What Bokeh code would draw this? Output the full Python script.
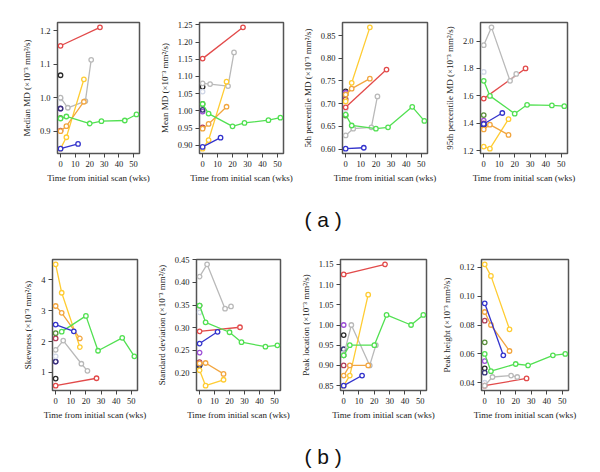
import math
from bokeh.plotting import figure
from bokeh.layouts import column, row
from bokeh.models import Range1d, FixedTicker, PrintfTickFormatter
from bokeh.core.properties import value
from bokeh.embed import file_html
from bokeh.resources import INLINE

# ---- data ----
SUBJECTS = ["red", "gray", "gold", "orange", "green", "blue"]
TIMES = {
    "red": [0, 27],
    "gray": [0, 5, 17, 21],
    "gold": [0, 4, 16],
    "orange": [0, 4, 16],
    "green": [0, 4, 20, 28, 44, 52],
    "blue": [0, 12],
}
SINGLES = ["black", "purple", "brown", "darkblue", "darkgreen", "lightgray"]
NAN = float("nan")

median_md = {"red": [1.155, 1.21], "gray": [1.0, 0.97, 0.99, 1.113], "gold": [0.848, 0.882, 1.055],
             "orange": [0.9, 0.915, 0.988], "green": [0.938, 0.944, 0.923, 0.93, 0.932, 0.95], "blue": [0.848, 0.862]}
median_single = [1.067, 0.967, 0.902, 0.968, 0.94, 0.998]

mean_md = {"red": [1.152, 1.243], "gray": [1.08, 1.078, 1.072, 1.17], "gold": [0.89, 0.915, 1.085],
           "orange": [0.948, 0.962, 1.012], "green": [1.02, 0.992, 0.955, 0.965, 0.973, 0.98], "blue": [0.895, 0.922]}
mean_single = [1.07, 0.998, 0.952, 1.003, 1.02, 1.056]

p5_md = {"red": [0.692, 0.775], "gray": [0.63, 0.645, 0.648, 0.716], "gold": [0.705, 0.746, 0.868],
         "orange": [0.72, 0.733, 0.755], "green": [0.676, 0.652, 0.645, 0.648, 0.693, 0.662], "blue": [0.601, 0.603]}
p5_single = [0.727, 0.724, 0.71, 0.72, 0.674, 0.688]

p95_md = {"red": [1.58, 1.8], "gray": [1.97, 2.1, 1.71, 1.76], "gold": [1.23, 1.215, 1.43],
          "orange": [1.355, 1.39, 1.315], "green": [1.71, 1.6, 1.47, 1.535, 1.53, 1.525], "blue": [1.395, 1.475]}
p95_single = [1.39, 1.42, 1.40, 1.385, 1.46, 1.775]

skewness = {"red": [0.57, 0.81], "gray": [1.73, 2.03, 1.28, 1.05], "gold": [4.5, 3.58, 1.82],
            "orange": [3.15, 2.93, 2.1], "green": [NAN, 2.32, 2.83, 1.7, 2.12, 1.52], "blue": [2.55, 2.33]}
skew_single = [0.8, 1.35, 2.1, 1.35, 2.27, 1.52]

std_dev = {"red": [0.292, 0.301], "gray": [0.413, 0.44, 0.342, 0.347], "gold": [0.206, 0.172, 0.185],
           "orange": [0.221, 0.222, 0.198], "green": [0.349, 0.312, 0.29, 0.268, 0.258, 0.261], "blue": [0.265, 0.291]}
std_single = [0.216, 0.245, 0.224, 0.218, 0.349, 0.334]

peak_loc = {"red": [1.125, 1.15], "gray": [0.925, 1.0, 0.9, 0.95], "gold": [0.85, 0.875, 1.075],
            "orange": [0.875, 0.9, 0.9], "green": [0.925, 0.95, 0.95, 1.025, 1.0, 1.025], "blue": [0.85, 0.875]}
peakloc_single = [0.975, 1.0, 0.9, 0.94, 0.925, 0.93]

peak_h = {"red": [0.038, 0.043], "gray": [0.038, 0.044, 0.045, 0.044], "gold": [0.122, 0.114, 0.077],
          "orange": [0.089, 0.08, 0.062], "green": [0.06, 0.048, 0.053, 0.052, 0.059, 0.06], "blue": [0.095, 0.059]}
peakh_single = [0.05, 0.055, 0.083, 0.047, 0.068, 0.04]

X_TICKS = [0, 10, 20, 30, 40, 50]
X_LABEL = "Time from initial scan (wks)"
UNIT = " (×10⁻³ mm²/s)"
PANELS = [
    ("Median MD" + UNIT, median_md, median_single, [0.9, 1.0, 1.1, 1.2], "%.1f"),
    ("Mean MD" + UNIT, mean_md, mean_single, [0.90, 0.95, 1.00, 1.05, 1.10, 1.15, 1.20, 1.25], "%.2f"),
    ("5th percentile MD" + UNIT, p5_md, p5_single, [0.60, 0.65, 0.70, 0.75, 0.80, 0.85], "%.2f"),
    ("95th percentile MD" + UNIT, p95_md, p95_single, [1.2, 1.4, 1.6, 1.8, 2.0], "%.1f"),
    ("Skewness" + UNIT, skewness, skew_single, [1, 2, 3, 4], "%d"),
    ("Standard deviation" + UNIT, std_dev, std_single, [0.20, 0.25, 0.30, 0.35, 0.40, 0.45], "%.2f"),
    ("Peak location" + UNIT, peak_loc, peakloc_single, [0.85, 0.90, 0.95, 1.00, 1.05, 1.10, 1.15], "%.2f"),
    ("Peak height" + UNIT, peak_h, peakh_single, [0.04, 0.06, 0.08, 0.10, 0.12], "%.2f"),
]
GROUP_LABELS = ["( a )", "( b )"]

COLORS = {"red": "#e24a4a", "gray": "#b9b9b9", "gold": "#ffcc33", "orange": "#f2a640",
          "green": "#52e052", "blue": "#3333cc", "black": "#2a2a2a", "purple": "#9c4fd6",
          "brown": "#b0405a", "darkblue": "#343477", "darkgreen": "#5a8f3c", "lightgray": "#cfd6e6"}

SERIF = "Liberation Serif"

# layout: (left border, frame width, right border) per panel (page has no body margin -> +8 offset)
ROW1 = [(57, 82, 14), (46, 84, 14), (45, 85, 12), (41, 87, 25)]
ROW2 = [(52, 85, 12), (47, 84, 13), (47, 86, 12), (42, 88, 24)]


def make_panel(spec, geom, top, bottom):
    label, series, singles, yticks, fmt = spec
    lb, fw, rb = geom
    allv = [v for s in SUBJECTS for v in series[s] if not math.isnan(v)] + list(singles)
    lo, hi = min(allv), max(allv)
    pad = 0.04 * (hi - lo)
    p = figure(width=lb + fw + rb, height=top + 131 + bottom, output_backend="svg",
               toolbar_location=None, x_range=Range1d(-2.08, 54.08),
               y_range=Range1d(lo - pad, hi + pad),
               min_border_left=lb, min_border_right=rb, min_border_top=top, min_border_bottom=bottom)
    p.grid.visible = False
    p.outline_line_color = "#555555"
    p.outline_line_width = 1.5
    p.background_fill_color = "white"
    p.border_fill_color = "white"
    for ax in (p.xaxis[0], p.yaxis[0]):
        ax.axis_line_color = None
        ax.major_tick_line_color = "#444444"
        ax.major_tick_in = 0
        ax.major_tick_out = 4
        ax.minor_tick_line_color = None
        ax.major_label_text_font = SERIF
        ax.major_label_text_font_size = "8.5px"
        ax.major_label_text_color = "#222222"
        ax.axis_label_text_font = SERIF
        ax.axis_label_text_font_size = "9px"
        ax.axis_label_text_font_style = "normal"
        ax.axis_label_text_color = "#222222"
        ax.major_label_standoff = 3
    p.xaxis[0].ticker = FixedTicker(ticks=X_TICKS)
    p.xaxis[0].axis_label = X_LABEL
    p.xaxis[0].axis_label_standoff = 3
    p.yaxis[0].ticker = FixedTicker(ticks=yticks)
    p.yaxis[0].formatter = PrintfTickFormatter(format=fmt)
    p.yaxis[0].axis_label = label
    p.yaxis[0].major_label_orientation = "horizontal"
    p.yaxis[0].axis_label_standoff = 5

    for name, val in zip(SINGLES, singles):
        p.scatter([0], [val], marker="circle", size=4.5, fill_color=None,
                  line_color=COLORS[name], line_width=1.3)
    for s in SUBJECTS:
        p.line(TIMES[s], series[s], line_color=COLORS[s], line_width=1.3)
        p.scatter(TIMES[s], series[s], marker="circle", size=4.5, fill_color="white",
                  line_color=COLORS[s], line_width=1.3)
    return p


def make_label(text, height, ypos):
    p = figure(width=592, height=height, output_backend="svg", toolbar_location=None,
               x_range=Range1d(0, 592), y_range=Range1d(0, height),
               min_border=0, outline_line_color=None)
    p.axis.visible = False
    p.grid.visible = False
    p.text(x=[304], y=[ypos], text=[text], text_font=value("Liberation Sans"),
           text_font_size="21px", text_color="#111111", text_align="left",
           text_baseline="alphabetic")
    return p


row1 = row(*[make_panel(PANELS[i], ROW1[i], 22, 39) for i in range(4)], spacing=0)
lab_a = make_label(GROUP_LABELS[0], 44, 17)
row2 = row(*[make_panel(PANELS[4 + i], ROW2[i], 23, 40) for i in range(4)], spacing=0)
lab_b = make_label(GROUP_LABELS[1], 41, 15)

layout = column(row1, lab_a, row2, lab_b, spacing=0)

open("out.html", "w").write(file_html(layout, INLINE))
